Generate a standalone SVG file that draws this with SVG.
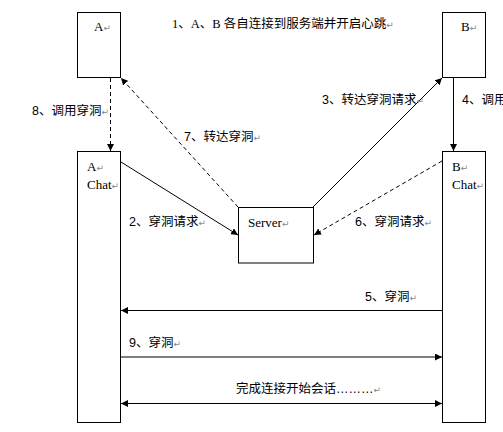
<svg xmlns="http://www.w3.org/2000/svg" width="503" height="432" viewBox="0 0 503 432">
<style>
.box{fill:#fff;stroke:#000;stroke-width:1}
.ln{fill:none;stroke:#000;stroke-width:1}
.dash{stroke-dasharray:4,3}
.ser{font-family:"Liberation Serif","Noto Sans CJK SC",serif;font-size:13px;fill:#000}
.cjk{font-family:"Liberation Sans","Noto Sans CJK SC",sans-serif;font-size:12.5px;fill:#000}
.ret{font-family:"DejaVu Sans",sans-serif;font-size:9px;fill:#888}
</style>
<defs>
<marker id="ah" markerUnits="userSpaceOnUse" markerWidth="7" markerHeight="7" refX="7" refY="3.5" orient="auto-start-reverse" viewBox="0 0 7 7">
<path d="M0,0 L7,3.5 L0,7 z" fill="#000"/>
</marker>
</defs>
<rect width="503" height="432" fill="#fff"/>
<g id="A">
<rect class="box" x="77.5" y="12.5" width="43" height="65"/>
<text class="ser" x="94" y="30.5">A<tspan class="ret">↵</tspan></text>
</g>
<g id="B">
<rect class="box" x="442.5" y="12.5" width="43" height="65"/>
<text class="ser" x="461" y="30.5">B<tspan class="ret">↵</tspan></text>
</g>
<g id="AChat">
<rect class="box" x="77.5" y="151.5" width="43" height="271"/>
<text class="ser" x="87" y="171">A<tspan class="ret">↵</tspan></text>
<text class="ser" x="87" y="189">Chat<tspan class="ret">↵</tspan></text>
</g>
<g id="BChat">
<rect class="box" x="442.5" y="151.5" width="43" height="271"/>
<text class="ser" x="452" y="171">B<tspan class="ret">↵</tspan></text>
<text class="ser" x="452" y="189">Chat<tspan class="ret">↵</tspan></text>
</g>
<g id="Server">
<rect class="box" x="238.5" y="207.5" width="75" height="55.5"/>
<text class="ser" x="248" y="227">Server<tspan class="ret">↵</tspan></text>
</g>
<g id="connectors">
<line class="ln dash" x1="110.5" y1="78" x2="110.5" y2="151" marker-end="url(#ah)"/>
<line class="ln" x1="453.5" y1="78" x2="453.5" y2="151" marker-end="url(#ah)"/>
<line class="ln dash" x1="238" y1="207" x2="121" y2="78" marker-end="url(#ah)"/>
<line class="ln" x1="313" y1="207" x2="442" y2="78" marker-end="url(#ah)"/>
<line class="ln" x1="121" y1="162" x2="238" y2="235" marker-end="url(#ah)"/>
<line class="ln dash" x1="442" y1="161" x2="314" y2="235" marker-end="url(#ah)"/>
<line class="ln" x1="442" y1="310.5" x2="121" y2="310.5" marker-end="url(#ah)"/>
<line x1="121" y1="357" x2="442" y2="357" stroke="#808080" stroke-width="2" marker-end="url(#ah)"/>
<line class="ln" x1="121" y1="403.5" x2="442" y2="403.5" marker-start="url(#ah)" marker-end="url(#ah)"/>
</g>
<g id="labels">
<text class="ser" x="172" y="28" style="font-size:12.5px">1、A、B 各自连接到服务端并开启心跳<tspan class="ret">↵</tspan></text>
<text class="cjk" x="32" y="114.5">8、调用穿洞<tspan class="ret">↵</tspan></text>
<text class="cjk" x="184" y="141">7、转达穿洞<tspan class="ret">↵</tspan></text>
<text class="cjk" x="322" y="104">3、转达穿洞请求<tspan class="ret">↵</tspan></text>
<text class="cjk" x="462" y="104">4、调用</text>
<text class="cjk" x="129" y="226">2、穿洞请求<tspan class="ret">↵</tspan></text>
<text class="cjk" x="355" y="226">6、穿洞请求<tspan class="ret">↵</tspan></text>
<text class="cjk" x="365" y="301">5、穿洞<tspan class="ret">↵</tspan></text>
<text class="cjk" x="129" y="347">9、穿洞<tspan class="ret">↵</tspan></text>
<text class="cjk" x="236" y="393">完成连接开始会话………<tspan class="ret">↵</tspan></text>
</g>
</svg>
